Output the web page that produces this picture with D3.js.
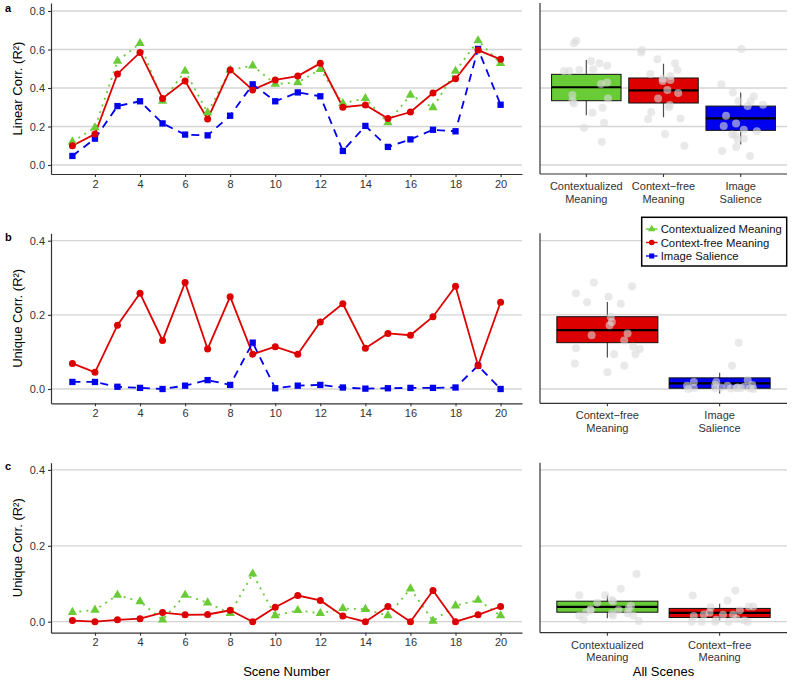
<!DOCTYPE html>
<html><head><meta charset="utf-8">
<script src="https://cdn.jsdelivr.net/npm/d3@7"></script>
<style>body{margin:0;background:#fff}</style>
</head><body><svg id="c" width="800" height="683"></svg>
<script>
// ---------------- data ----------------
const scenes = [1,2,3,4,5,6,7,8,9,10,11,12,13,14,15,16,17,18,19,20];
const xTicks = [2,4,6,8,10,12,14,16,18,20];
const seriesNames = ["Contextualized Meaning","Context-free Meaning","Image Salience"];

// panel a: linear correlation
const linearCtx  = [0.121,0.194,0.540,0.632,0.332,0.488,0.272,0.493,0.516,0.421,0.428,0.497,0.320,0.346,0.220,0.364,0.298,0.488,0.646,0.528];
const linearFree = [0.100,0.161,0.473,0.585,0.346,0.436,0.239,0.494,0.390,0.442,0.462,0.528,0.300,0.312,0.241,0.275,0.374,0.448,0.597,0.549];
const linearSal  = [0.047,0.137,0.306,0.331,0.216,0.158,0.154,0.256,0.419,0.331,0.377,0.357,0.073,0.203,0.094,0.133,0.183,0.175,0.603,0.313];
// panel b: unique (meaning vs salience)
const uniqueFreeB = [0.069,0.045,0.172,0.258,0.131,0.287,0.108,0.249,0.094,0.114,0.094,0.181,0.230,0.110,0.150,0.145,0.195,0.277,0.063,0.234];
const uniqueSalB  = [0.019,0.019,0.006,0.003,0.000,0.009,0.024,0.011,0.125,0.002,0.009,0.011,0.004,0.001,0.002,0.003,0.003,0.004,0.063,0.000];
// panel c: unique (contextualized vs context-free)
const uniqueCtxC  = [0.025,0.031,0.070,0.053,0.005,0.070,0.050,0.022,0.126,0.016,0.030,0.022,0.035,0.033,0.016,0.087,0.002,0.042,0.057,0.016];
const uniqueFreeC = [0.003,0.000,0.005,0.008,0.024,0.018,0.019,0.030,0.000,0.038,0.069,0.056,0.015,0.000,0.040,0.000,0.082,0.000,0.018,0.040];

// box statistics [lower whisker, Q1, median, Q3, upper whisker]
const boxACtx  = [0.258,0.334,0.404,0.471,0.545];
const boxAFree = [0.248,0.322,0.388,0.452,0.526];
const boxASal  = [0.107,0.180,0.242,0.306,0.377];
const boxBFree = [0.085,0.125,0.159,0.195,0.235];
const boxBSal  = [-0.012,0.002,0.015,0.030,0.044];
const boxCCtx  = [0.009,0.025,0.039,0.054,0.069];
const boxCFree = [0.003,0.011,0.023,0.035,0.047];

// horizontal jitter of the grey scene points (category units)
const jitACtx  = [0.20,-0.03,0.06,-0.16,-0.18,-0.29,0.08,-0.09,0.27,0.19,0.27,0.09,-0.16,0.28,0.23,-0.18,0.21,-0.22,-0.13,0.17];
const jitAFree = [0.27,0.02,-0.17,-0.29,-0.07,-0.01,-0.20,0.18,0.05,0.09,0.09,0.15,0.07,0.08,0.22,-0.16,0.19,-0.01,-0.28,-0.08];
const jitASal  = [0.12,0.04,0.09,0.13,-0.06,-0.11,-0.07,-0.19,-0.25,-0.03,-0.10,0.17,-0.24,-0.22,-0.06,-0.04,0.04,0.21,0.01,0.29];
const jitBFree = [-0.29,0.00,0.02,-0.28,0.15,-0.12,0.29,0.01,0.25,0.23,0.06,0.04,0.12,-0.28,0.18,-0.14,0.03,0.22,0.15,-0.18];
const jitBSal  = [-0.03,-0.23,0.22,0.15,-0.28,0.07,0.25,-0.04,0.17,-0.04,-0.29,0.29,0.01,0.10,0.27,-0.23,0.19,0.16,0.11,0.30];
const jitCCtx  = [-0.19,0.10,-0.25,0.05,-0.21,-0.02,-0.09,0.04,0.26,-0.25,-0.15,0.18,0.19,-0.15,0.23,0.12,0.28,0.21,0.04,0.05];
const jitCFree = [0.22,-0.25,-0.03,0.15,-0.09,0.03,-0.14,0.18,-0.04,-0.08,-0.24,0.07,-0.23,0.08,0.26,0.25,0.14,-0.16,0.12,0.30];

const ticksA = [0,0.2,0.4,0.6,0.8];
const ticksBC = [0,0.2,0.4];

// ---------------- styling ----------------
const FONT = "'Liberation Sans', Arial, Helvetica, sans-serif";
const COL = {ctx:"#69cc36", free:"#dd0000", sal:"#0000ee"};
const STYLE = {
  ctx:  {dash:"2,5", width:1.8, shape:"tri"},
  free: {dash:null, width:1.8, shape:"circle"},
  sal:  {dash:"8,6", width:1.8, shape:"square"}
};
const svg = d3.select("#c").style("font-family", FONT);
const xL = d3.scaleLinear().domain([0.05, 20.95]).range([51, 522]);
const RX = [540, 787];

function drawPoint(g, x, y, key, scale) {
  scale = scale || 1;
  const s = STYLE[key].shape;
  if (s === "circle") {
    g.append("circle").attr("cx", x).attr("cy", y).attr("r", 3.5*scale).attr("fill", COL[key]);
  } else if (s === "square") {
    g.append("path").attr("transform", `translate(${x},${y})`)
      .attr("d", d3.symbol(d3.symbolSquare, 40*scale*scale)()).attr("fill", COL[key]);
  } else {
    g.append("path").attr("transform", `translate(${x},${y})`)
      .attr("d", d3.symbol(d3.symbolTriangle, 38*scale*scale)()).attr("fill", COL[key]);
  }
}

function styleAxis(ax) {
  ax.select(".domain").attr("stroke", "#333").attr("stroke-width", 1.2);
  ax.selectAll(".tick line").attr("stroke", "#333").attr("stroke-width", 1.1);
  ax.selectAll(".tick text").attr("fill", "#333").style("font-size", "11px").style("font-family", FONT);
}

function grid(g, y, ticks, x0, x1) {
  g.append("g").selectAll("line").data(ticks).join("line")
    .attr("x1", x0).attr("x2", x1).attr("y1", d => y(d)).attr("y2", d => y(d))
    .attr("stroke", "#d4d4d4").attr("stroke-width", 1.3);
}

function linePanel(y, ticks, series, letter, title, letterY) {
  const g = svg.append("g");
  grid(g, y, ticks, xL.range()[0], xL.range()[1]);
  const line = d3.line().x((d, i) => xL(scenes[i])).y(d => y(d));
  series.forEach(s => {
    const p = g.append("path").datum(s.values).attr("d", line).attr("fill", "none")
      .attr("stroke", COL[s.key]).attr("stroke-width", STYLE[s.key].width);
    if (STYLE[s.key].dash) p.attr("stroke-dasharray", STYLE[s.key].dash);
  });
  const order = ["ctx", "sal", "free"];
  order.forEach(k => {
    const s = series.find(q => q.key === k);
    if (!s) return;
    s.values.forEach((v, i) => drawPoint(g, xL(scenes[i]), y(v), k));
  });
  const ay = g.append("g").attr("transform", `translate(${xL.range()[0]},0)`)
    .call(d3.axisLeft(y).tickValues(ticks).tickFormat(d3.format(".1f")).tickSize(3).tickPadding(3).tickSizeOuter(0));
  styleAxis(ay);
  const ax = g.append("g").attr("transform", `translate(0,${y.range()[0]})`)
    .call(d3.axisBottom(xL).tickValues(xTicks).tickFormat(d3.format("d")).tickSize(3).tickPadding(3).tickSizeOuter(0));
  styleAxis(ax);
  const cy = (y.range()[0] + y.range()[1]) / 2;
  g.append("text").attr("transform", `translate(21.5,${cy}) rotate(-90)`).attr("text-anchor", "middle")
    .style("font-size", "13px").attr("fill", "#000").text(title);
  g.append("text").attr("x", 5).attr("y", letterY).style("font-size", "11px").style("font-weight", "bold").text(letter);
}

function boxPanel(y, ticks, cats, keys, boxes, vals, jits) {
  const g = svg.append("g");
  const xr = d3.scalePoint().domain(cats).range(RX).padding(0.6);
  const step = xr.step();
  const bw = 0.9 * step;
  grid(g, y, ticks, RX[0], RX[1]);
  cats.forEach((c, i) => {
    const b = boxes[i], cx = xr(c);
    g.append("line").attr("x1", cx).attr("x2", cx).attr("y1", y(b[0])).attr("y2", y(b[4]))
      .attr("stroke", "#4d4d4d").attr("stroke-width", 1.2);
    g.append("rect").attr("x", cx - bw/2).attr("width", bw).attr("y", y(b[3])).attr("height", y(b[1]) - y(b[3]))
      .attr("fill", COL[keys[i]]).attr("stroke", "#111").attr("stroke-width", 1);
    g.append("line").attr("x1", cx - bw/2).attr("x2", cx + bw/2).attr("y1", y(b[2])).attr("y2", y(b[2]))
      .attr("stroke", "#000").attr("stroke-width", 2.2);
  });
  cats.forEach((c, i) => {
    vals[i].forEach((v, j) => {
      g.append("circle").attr("cx", xr(c) + jits[i][j]*step).attr("cy", y(v)).attr("r", 4)
        .attr("fill", "#dadada").attr("fill-opacity", 0.6);
    });
  });
  // axes
  g.append("line").attr("x1", RX[0]).attr("x2", RX[0]).attr("y1", y.range()[1]).attr("y2", y.range()[0])
    .attr("stroke", "#333").attr("stroke-width", 1.2);
  g.append("line").attr("x1", RX[0]).attr("x2", RX[1]).attr("y1", y.range()[0]).attr("y2", y.range()[0])
    .attr("stroke", "#333").attr("stroke-width", 1.2);
  cats.forEach(c => {
    const cx = xr(c), by = y.range()[0];
    g.append("line").attr("x1", cx).attr("x2", cx).attr("y1", by).attr("y2", by + 3).attr("stroke", "#333").attr("stroke-width", 1.1);
    const parts = c.split(" ");
    const t = g.append("text").attr("text-anchor", "middle").style("font-size", "11px").attr("fill", "#333");
    parts.forEach((p, k) => t.append("tspan").attr("x", cx).attr("y", by + 16 + k * 12.6).text(p));
  });
}

// ---------------- scales ----------------
const yA = d3.scaleLinear().domain([-0.0468, 0.8416]).range([174, 3]);
const yB = d3.scaleLinear().domain([-0.0386, 0.4200]).range([403.3, 233.3]);
const yC = d3.scaleLinear().domain([-0.0290, 0.4190]).range([632.7, 462.7]);

// ---------------- panels ----------------
linePanel(yA, ticksA, [
  {key:"ctx", values:linearCtx}, {key:"free", values:linearFree}, {key:"sal", values:linearSal}
], "a", "Linear Corr. (R²)", 12);
boxPanel(yA, ticksA, ["Contextualized Meaning","Context−free Meaning","Image Salience"], ["ctx","free","sal"],
  [boxACtx, boxAFree, boxASal], [linearCtx, linearFree, linearSal], [jitACtx, jitAFree, jitASal]);

linePanel(yB, ticksBC, [
  {key:"free", values:uniqueFreeB}, {key:"sal", values:uniqueSalB}
], "b", "Unique Corr. (R²)", 241);
boxPanel(yB, ticksBC, ["Context−free Meaning","Image Salience"], ["free","sal"],
  [boxBFree, boxBSal], [uniqueFreeB, uniqueSalB], [jitBFree, jitBSal]);

linePanel(yC, ticksBC, [
  {key:"ctx", values:uniqueCtxC}, {key:"free", values:uniqueFreeC}
], "c", "Unique Corr. (R²)", 470);
boxPanel(yC, ticksBC, ["Contextualized Meaning","Context−free Meaning"], ["ctx","free"],
  [boxCCtx, boxCFree], [uniqueCtxC, uniqueFreeC], [jitCCtx, jitCFree]);

// x titles
svg.append("text").attr("x", (xL.range()[0] + xL.range()[1]) / 2).attr("y", 675.5).attr("text-anchor", "middle")
  .style("font-size", "13px").text("Scene Number");
svg.append("text").attr("x", (RX[0] + RX[1]) / 2).attr("y", 675.5).attr("text-anchor", "middle")
  .style("font-size", "13px").text("All Scenes");

// legend
const lg = svg.append("g");
lg.append("rect").attr("x", 641.7).attr("y", 217.3).attr("width", 145).attr("height", 48.7)
  .attr("fill", "#fff").attr("stroke", "#000").attr("stroke-width", 1.5);
const keysL = ["ctx","free","sal"];
seriesNames.forEach((n, i) => {
  const cy = 229 + i * 13.5;
  const k = keysL[i];
  lg.append("line").attr("x1", 646).attr("x2", 657.5).attr("y1", cy).attr("y2", cy)
    .attr("stroke", COL[k]).attr("stroke-width", 1.4);
  drawPoint(lg, 651.7, cy, k, 0.8);
  lg.append("text").attr("x", 660.7).attr("y", cy).attr("dy", "0.36em").style("font-size", "11.3px")
    .attr("fill", "#111").text(n);
});
</script>
</body></html>
